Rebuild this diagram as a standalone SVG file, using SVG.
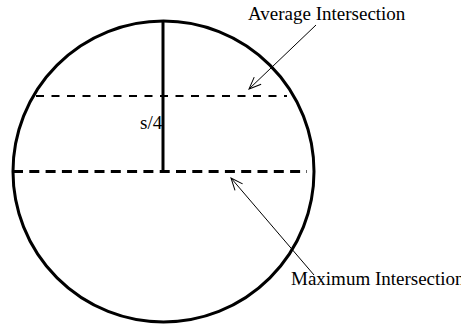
<svg xmlns="http://www.w3.org/2000/svg" width="461" height="324" viewBox="0 0 461 324">
<style>
.t{font-family:"Liberation Serif","Times New Roman",serif;fill:#000}
.lbl{font-size:19px}
.ln{stroke:#000;fill:none}
</style>
<defs>
<marker id="open" markerWidth="14" markerHeight="12" refX="13" refY="6" orient="auto" markerUnits="userSpaceOnUse">
<path d="M1,1 L13,6 L1,11" fill="none" stroke="#000" stroke-width="1"/>
</marker>
</defs>
<rect width="461" height="324" fill="#fff"/>
<g id="circle">
<circle cx="163.5" cy="171.5" r="150.5" class="ln" stroke-width="3"/>
</g>
<g id="radius">
<line x1="163" y1="21" x2="163" y2="171" class="ln" stroke-width="3"/>
</g>
<g id="avg-line">
<line x1="36" y1="96" x2="287" y2="96" class="ln" stroke-width="2" stroke-dasharray="8 7.5"/>
</g>
<g id="max-line">
<line x1="13" y1="171.5" x2="307" y2="171.5" class="ln" stroke-width="3" stroke-dasharray="10 6.3"/>
</g>
<g id="s4">
<text x="140" y="129" class="t lbl">s/4</text>
</g>
<g id="connectors">
<line x1="316" y1="25" x2="249" y2="89" class="ln" stroke-width="1" marker-end="url(#open)"/>
<line x1="314" y1="275" x2="231" y2="178" class="ln" stroke-width="1" marker-end="url(#open)"/>
</g>
<g id="avg-label">
<text x="248" y="20" class="t lbl">Average Intersection</text>
</g>
<g id="max-label">
<text x="291" y="285" class="t lbl">Maximum Intersection</text>
</g>
</svg>
